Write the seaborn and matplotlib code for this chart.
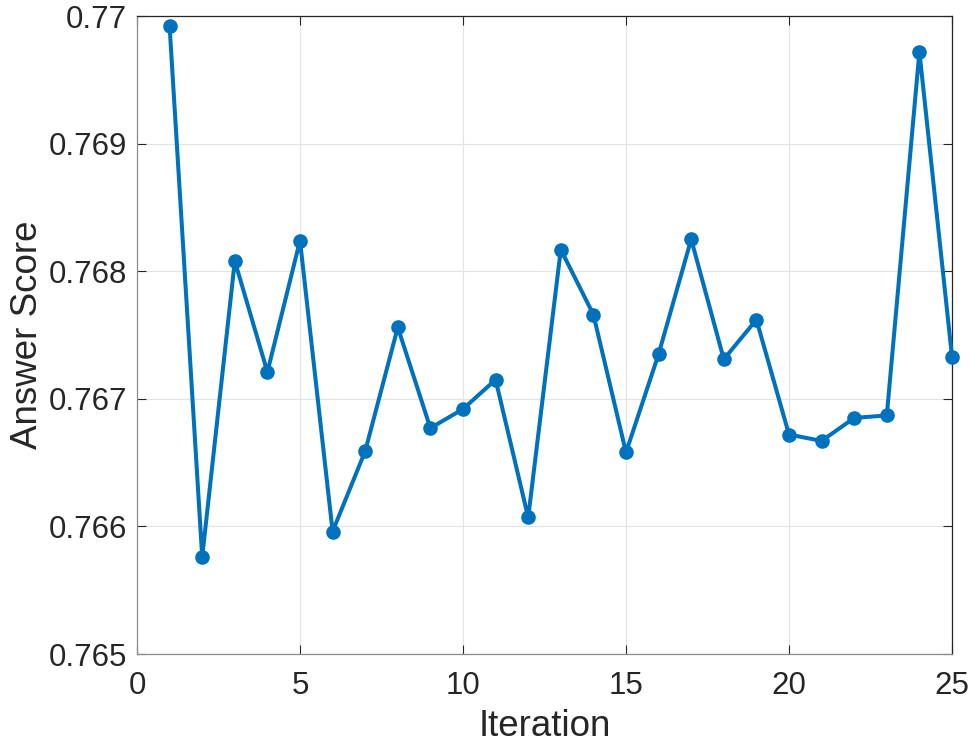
import numpy as np
import pandas as pd
import matplotlib
matplotlib.use('Agg')
import matplotlib.pyplot as plt
import seaborn as sns

# values
iterations = list(range(1, 26))
answer_score = [0.76992, 0.76576, 0.76808, 0.76721, 0.76824, 0.76596, 0.76659,
                0.76756, 0.76677, 0.76692, 0.76715, 0.76607, 0.76817, 0.76766,
                0.76658, 0.76735, 0.76825, 0.76731, 0.76762, 0.76672, 0.76667,
                0.76685, 0.76687, 0.76972, 0.76733]
x_ticks = [0, 5, 10, 15, 20, 25]
y_ticks = [0.765, 0.766, 0.767, 0.768, 0.769, 0.770]
y_labels = ['0.765', '0.766', '0.767', '0.768', '0.769', '0.77']

df = pd.DataFrame({'Iteration': iterations, 'Answer Score': answer_score})

sns.set_style('whitegrid')
plt.rcParams['font.family'] = ['Liberation Sans', 'DejaVu Sans']

fig = plt.figure(figsize=(9.77, 7.52), dpi=100)
ax = fig.add_axes([137 / 977, 1 - 654 / 752, (952 - 137) / 977, (654 - 16) / 752])

sns.lineplot(data=df, x='Iteration', y='Answer Score', ax=ax, color='#0072BD',
             linewidth=2.9, marker='o', markersize=9, markeredgewidth=1.5,
             markeredgecolor='#0072BD', clip_on=False, zorder=3)

ax.set_xlim(0, 25)
ax.set_ylim(0.765, 0.770)
ax.set_xticks(x_ticks)
ax.set_yticks(y_ticks)
ax.set_yticklabels(y_labels)
ax.tick_params(axis='both', direction='in', length=6.5, width=0.8, color='#262626',
               labelsize=22.5, labelcolor='#262626', top=True, right=True,
               bottom=True, left=True)
ax.tick_params(axis='x', pad=12)
ax.tick_params(axis='y', pad=7)
ax.set_xlabel('Iteration', fontsize=26.5, color='#262626', labelpad=6)
ax.set_ylabel('Answer Score', fontsize=26.5, color='#262626', labelpad=3)
ax.grid(True, color='#e3e3e3', linewidth=0.8)
for name, s in ax.spines.items():
    s.set_visible(True)
    s.set_linewidth(0.9)
    s.set_color('#8c8c8c' if name in ('left', 'bottom') else '#262626')

fig.savefig('out.png', dpi=100)
